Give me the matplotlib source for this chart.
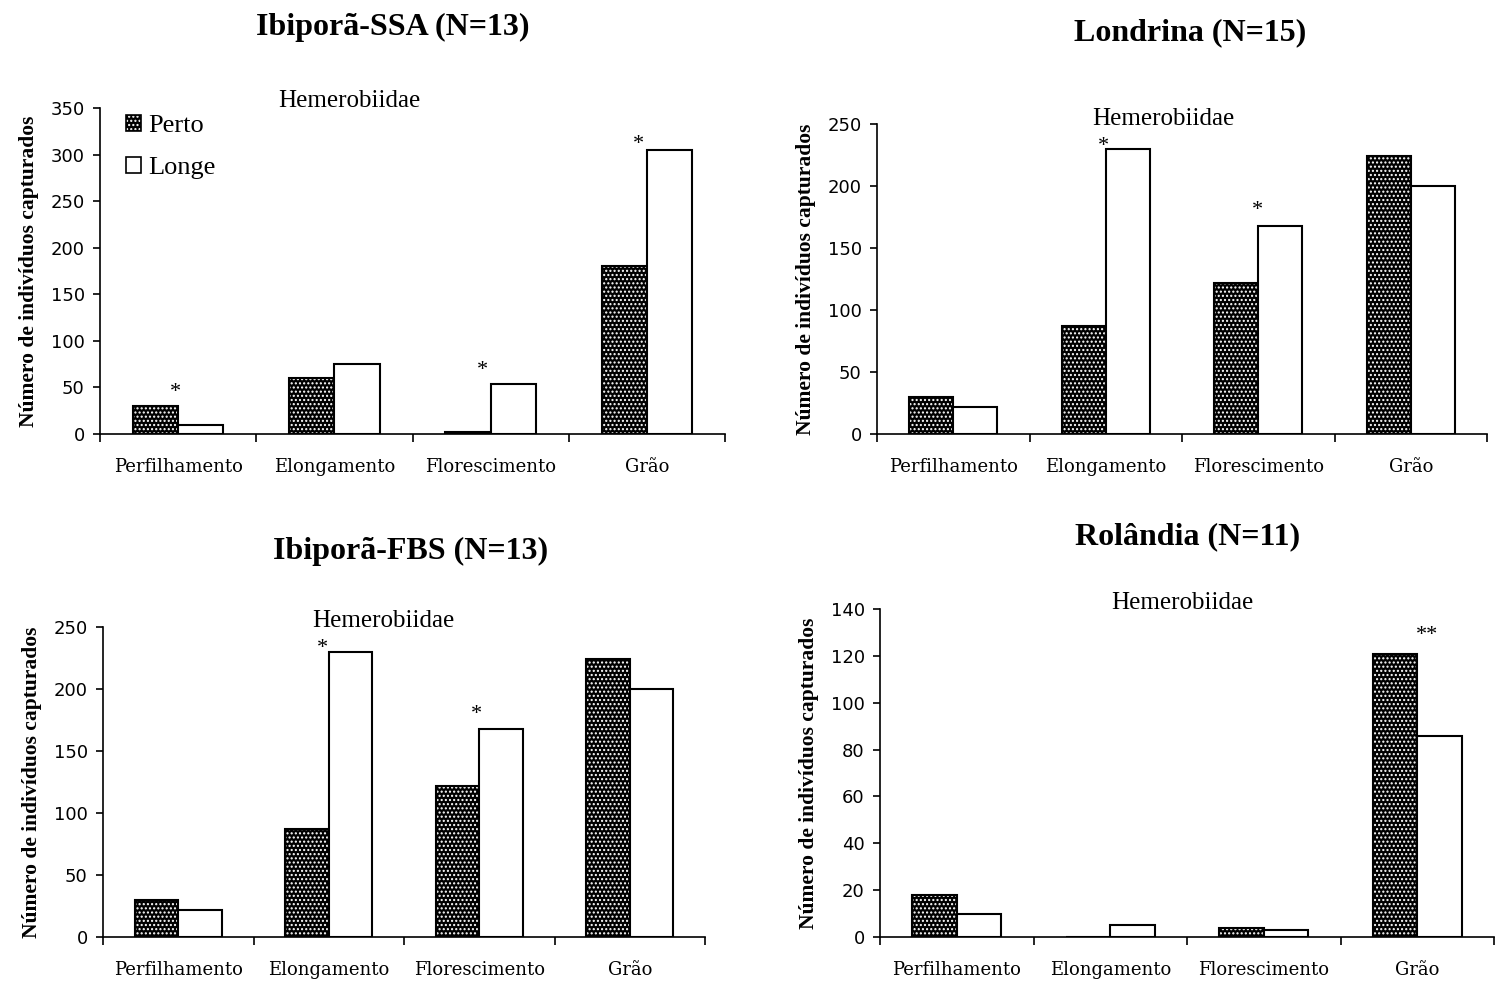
import matplotlib
matplotlib.use("Agg")
import matplotlib.pyplot as plt
from matplotlib.patches import Patch
import numpy as np

plt.rcParams['font.family'] = ['Liberation Serif', 'DejaVu Serif']
plt.rcParams['hatch.linewidth'] = 1.0

stages = ["Perfilhamento", "Elongamento", "Florescimento", "Grão"]

# values
ssa_perto = [30, 60, 2, 180]
ssa_longe = [10, 75, 54, 305]
lon_perto = [30, 87, 122, 224]
lon_longe = [22, 230, 168, 200]
fbs_perto = [30, 87, 122, 224]
fbs_longe = [22, 230, 168, 200]
rol_perto = [18, 0, 4, 121]
rol_longe = [10, 5, 3, 86]

W, H = 1495, 981
fig = plt.figure(figsize=(W / 100, H / 100), dpi=100)


def px_axes(l, t, r, b):
    return fig.add_axes([l / W, 1 - b / H, (r - l) / W, (b - t) / H])


BW = 0.29


def panel(ax, perto, longe, ymax, ystep, title, title_xy, hem_xy, stars):
    x = np.arange(len(stages))
    ax.bar(x - BW / 2, perto, BW, color='black', hatch='....',
           edgecolor='white', linewidth=0)
    ax.bar(x - BW / 2, perto, BW, fill=False, edgecolor='black', linewidth=1.5)
    ax.bar(x + BW / 2, longe, BW, color='white', edgecolor='black', linewidth=1.5)
    ax.set_xlim(-0.5, len(stages) - 0.5)
    ax.set_ylim(0, ymax)
    ax.set_yticks(np.arange(0, ymax + 1, ystep))
    for lab in ax.get_yticklabels():
        lab.set_fontfamily('DejaVu Sans')
    ax.set_xticks(np.arange(-0.5, len(stages)))
    ax.set_xticklabels([])
    ax.set_xticks(x, minor=True)
    ax.set_xticklabels(stages, minor=True, fontfamily='DejaVu Serif')
    ax.tick_params(axis='x', which='major', length=6, width=1.2, direction='out')
    ax.tick_params(axis='x', which='minor', length=0, pad=17, labelsize=13)
    ax.tick_params(axis='y', length=5, width=1.2, labelsize=13, pad=6)
    for s in ['top', 'right']:
        ax.spines[s].set_visible(False)
    for s in ['left', 'bottom']:
        ax.spines[s].set_linewidth(1.2)
    ax.set_ylabel("Número de indivíduos capturados", fontsize=15.5,
                  fontweight='bold', labelpad=8)
    fig.text(title_xy[0] / W, 1 - title_xy[1] / H, title, fontsize=23,
             fontweight='bold', ha='center', va='center')
    fig.text(hem_xy[0] / W, 1 - hem_xy[1] / H, "Hemerobiidae", fontsize=18,
             ha='center', va='center')
    # stars: (category, mark, dx px, height of star centre above bars in px)
    for i, mark, dx, dy in stars:
        top = max(perto[i], longe[i])
        ax.annotate(mark, (x[i], top), xytext=(dx * 0.72, (dy - 12) * 0.72),
                    textcoords='offset points', ha='center', va='baseline',
                    fontsize=16)


ax1 = px_axes(100, 108, 725, 434)
panel(ax1, ssa_perto, ssa_longe, 350, 50, "Ibiporã-SSA (N=13)", (393, 27),
      (349, 101), [(0, '*', -3, 21), (2, '*', -8, 21), (3, '*', -8, 13)])
h_perto = (Patch(facecolor='black', hatch='....', edgecolor='white', linewidth=0),
           Patch(fill=False, edgecolor='black', linewidth=1.2))
h_longe = Patch(facecolor='white', edgecolor='black', linewidth=1.2)
ax1.legend([h_perto, h_longe], ["Perto", "Longe"], loc='upper left',
           bbox_to_anchor=(0.025, 1.012), frameon=False, fontsize=19,
           handlelength=0.55, handleheight=0.55, handletextpad=0.3,
           labelspacing=0.75, borderaxespad=0.0)

ax2 = px_axes(877, 124, 1487, 434)
panel(ax2, lon_perto, lon_longe, 250, 50, "Londrina (N=15)", (1190, 33),
      (1163, 119), [(1, '*', -2, 10), (2, '*', -1, 23)])

ax3 = px_axes(103, 627, 705, 937)
panel(ax3, fbs_perto, fbs_longe, 250, 50, "Ibiporã-FBS (N=13)", (411, 551),
      (383, 621), [(1, '*', -6, 11), (2, '*', -3, 22)])

ax4 = px_axes(880, 609, 1494, 937)
panel(ax4, rol_perto, rol_longe, 140, 20, "Rolândia (N=11)", (1188, 537),
      (1182, 603), [(3, '**', 10, 26)])

fig.savefig("out.png", dpi=100)
